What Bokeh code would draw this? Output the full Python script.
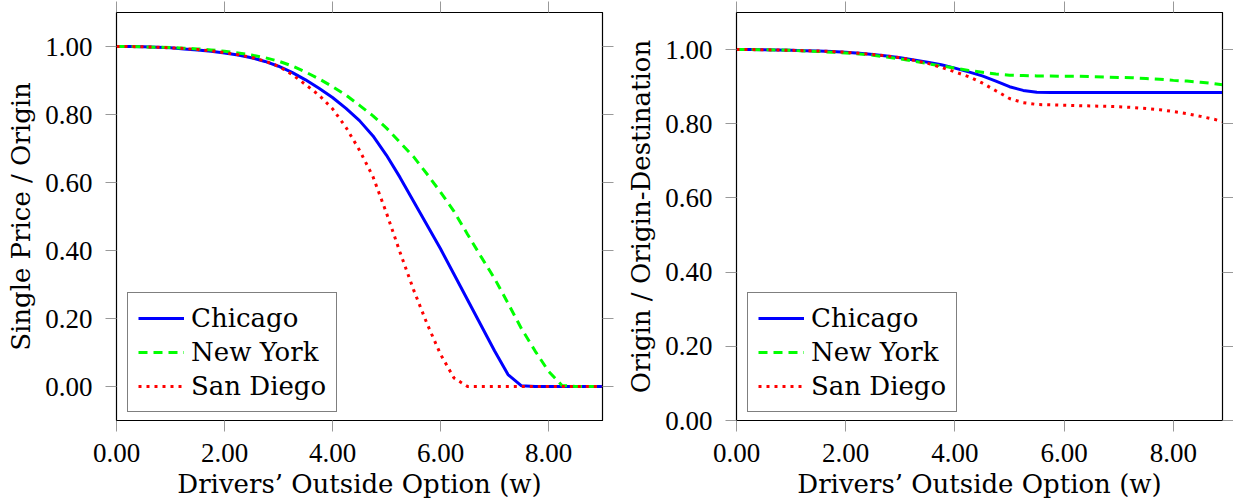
from bokeh.plotting import figure
from bokeh.models import (LinearAxis, FixedTicker, Legend, LegendItem, NumeralTickFormatter,
                          ColumnDataSource, CustomLabelingPolicy)
from bokeh.layouts import row
from bokeh.embed import file_html
from bokeh.resources import INLINE

# ---------------- data ----------------
x_left = [0.00, 0.25, 0.50, 0.75, 1.00, 1.25, 1.50, 1.75, 2.00, 2.25, 2.50, 2.75,
          3.00, 3.25, 3.50, 3.75, 4.00, 4.25, 4.50, 4.75, 5.00, 5.25, 5.50, 5.75,
          6.00, 6.25, 6.50, 6.75, 7.00, 7.25, 7.50, 7.75, 8.00, 8.25, 8.50, 8.75, 9.00]
chicago_left = [1.000, 1.000, 0.999, 0.998, 0.996, 0.993, 0.990, 0.986, 0.981, 0.975, 0.967, 0.956,
                0.942, 0.924, 0.902, 0.877, 0.850, 0.818, 0.782, 0.737, 0.680, 0.615, 0.545, 0.475,
                0.405, 0.330, 0.255, 0.180, 0.105, 0.035, 0.002, 0.000, 0.000, 0.000, 0.000, 0.000, 0.000]
newyork_left = [1.000, 1.000, 0.999, 0.998, 0.997, 0.995, 0.993, 0.990, 0.986, 0.981, 0.975, 0.967,
                0.957, 0.943, 0.925, 0.905, 0.882, 0.857, 0.827, 0.796, 0.760, 0.718, 0.676, 0.625,
                0.572, 0.515, 0.448, 0.382, 0.318, 0.245, 0.170, 0.105, 0.045, 0.003, 0.000, 0.000, 0.000]
sandiego_left = [1.000, 1.000, 0.999, 0.998, 0.996, 0.994, 0.991, 0.987, 0.982, 0.976, 0.968, 0.957,
                 0.942, 0.918, 0.888, 0.857, 0.817, 0.762, 0.695, 0.617, 0.510, 0.395, 0.285, 0.185,
                 0.095, 0.025, 0.000, 0.000, 0.000, 0.000, 0.000, 0.000, 0.000, 0.000, 0.000, 0.000, 0.000]

x_right = [0.00, 0.25, 0.50, 0.75, 1.00, 1.25, 1.50, 1.75, 2.00, 2.25, 2.50, 2.75,
           3.00, 3.25, 3.50, 3.75, 4.00, 4.25, 4.50, 4.75, 5.00, 5.25, 5.50, 5.75,
           6.00, 6.25, 6.50, 6.75, 7.00, 7.25, 7.50, 7.75, 8.00, 8.25, 8.50, 8.75, 8.90]
chicago_right = [1.000, 1.000, 0.9995, 0.999, 0.998, 0.997, 0.996, 0.995, 0.993, 0.990, 0.987, 0.983,
                 0.978, 0.972, 0.966, 0.959, 0.950, 0.940, 0.929, 0.915, 0.900, 0.890, 0.885, 0.884,
                 0.884, 0.884, 0.884, 0.884, 0.884, 0.884, 0.884, 0.884, 0.884, 0.884, 0.884, 0.884, 0.884]
newyork_right = [1.000, 1.000, 0.9995, 0.999, 0.998, 0.996, 0.995, 0.993, 0.991, 0.988, 0.985, 0.980,
                 0.975, 0.969, 0.962, 0.956, 0.950, 0.944, 0.939, 0.934, 0.931, 0.930, 0.929, 0.929,
                 0.928, 0.928, 0.927, 0.926, 0.925, 0.924, 0.922, 0.920, 0.917, 0.915, 0.912, 0.908, 0.905]
sandiego_right = [1.000, 1.000, 0.9995, 0.999, 0.998, 0.997, 0.996, 0.995, 0.993, 0.990, 0.987, 0.983,
                  0.978, 0.971, 0.963, 0.952, 0.940, 0.927, 0.910, 0.889, 0.868, 0.857, 0.852, 0.851,
                  0.850, 0.849, 0.848, 0.847, 0.846, 0.844, 0.841, 0.838, 0.833, 0.827, 0.820, 0.812, 0.806]

series_names = ["Chicago", "New York", "San Diego"]
x_ticks = [0, 2, 4, 6, 8]
y_ticks = [0.0, 0.2, 0.4, 0.6, 0.8, 1.0]
x_label = "Drivers\u2019 Outside Option (w)"
y_label_left = "Single Price / Origin"
y_label_right = "Origin / Origin-Destination"

# ---------------- styling ----------------
COLORS = ["#0000ff", "#00ff00", "#ff0000"]
DASHES = ["solid", "9 6", "3 5"]
TICK_FONT = "Liberation Serif"
TEXT_FONT = "DejaVu Serif"
TICK_COLOR = "#999999"

HIDE_LABELS = CustomLabelingPolicy(code="""
try { const r = indices.clone(); r.clear(); return r } catch (e) {}
try { for (const i of Array.from(indices)) indices.unset(i); return indices } catch (e) {}
return indices
""")


def mirror_axis(ticks, tick_len):
    return LinearAxis(ticker=FixedTicker(ticks=ticks), major_tick_in=0, major_tick_out=tick_len,
                      minor_tick_in=0, minor_tick_out=0, major_tick_line_color=TICK_COLOR,
                      major_label_text_font_size="0px", major_label_standoff=0,
                      major_label_policy=HIDE_LABELS, axis_line_color="black")


def make_panel(xs, ys_list, xr, yr, ylabel, width, border_left, border_right):
    p = figure(width=width, height=501, x_range=xr, y_range=yr,
               output_backend="svg", toolbar_location=None,
               min_border_left=border_left, min_border_right=border_right,
               min_border_top=12, min_border_bottom=80)
    p.xgrid.visible = False
    p.ygrid.visible = False
    p.outline_line_color = "black"
    p.outline_line_width = 1.2
    p.background_fill_color = "white"
    p.border_fill_color = "white"

    src = ColumnDataSource(dict(x=xs, a=ys_list[0], b=ys_list[1], c=ys_list[2]))
    renderers = []
    for col, color, dash in zip(["a", "b", "c"], COLORS, DASHES):
        r = p.line("x", col, source=src, line_color=color, line_width=3, line_dash=dash)
        renderers.append(r)

    for ax, ticks in ((p.xaxis[0], x_ticks), (p.yaxis[0], y_ticks)):
        ax.ticker = FixedTicker(ticks=ticks)
        ax.formatter = NumeralTickFormatter(format="0.00")
        ax.major_tick_in = 0
        ax.major_tick_out = 11
        ax.minor_tick_in = 0
        ax.minor_tick_out = 0
        ax.major_tick_line_color = TICK_COLOR
        ax.major_tick_line_width = 1
        ax.axis_line_color = "black"
        ax.major_label_text_font = TICK_FONT
        ax.major_label_text_font_size = "27px"
        ax.major_label_text_color = "black"
        ax.major_label_text_line_height = 1.0
        ax.axis_label_text_font = TEXT_FONT
        ax.axis_label_text_font_size = "26px"
        ax.axis_label_text_font_style = "normal"
        ax.axis_label_text_color = "black"
        ax.axis_label_text_line_height = 1.0
    p.xaxis[0].axis_label = x_label
    p.xaxis[0].major_label_standoff = 12
    p.xaxis[0].axis_label_standoff = 4
    p.yaxis[0].axis_label = ylabel
    p.yaxis[0].major_label_standoff = 13
    p.yaxis[0].axis_label_standoff = 6

    p.add_layout(mirror_axis(x_ticks, 11), "above")
    p.add_layout(mirror_axis(y_ticks, 11), "right")

    legend = Legend(items=[LegendItem(label=n, renderers=[r]) for n, r in zip(series_names, renderers)],
                    location=(11, 8), margin=0, padding=10, spacing=4,
                    glyph_width=46, glyph_height=30, label_height=30, label_standoff=7,
                    label_text_font=TEXT_FONT, label_text_font_size="26px",
                    label_text_color="black",
                    border_line_color="black", border_line_width=1,
                    background_fill_color="white", background_fill_alpha=1.0)
    p.add_layout(legend)
    return p


p1 = make_panel(x_left, [chicago_left, newyork_left, sandiego_left], (0, 9), (-0.1, 1.1),
                y_label_left, width=616, border_left=116, border_right=14)
p2 = make_panel(x_right, [chicago_right, newyork_right, sandiego_right], (0, 8.9), (0, 1.1),
                y_label_right, width=617, border_left=120, border_right=11)

layout = row(p1, p2)
open("out.html", "w").write(file_html(layout, INLINE))
